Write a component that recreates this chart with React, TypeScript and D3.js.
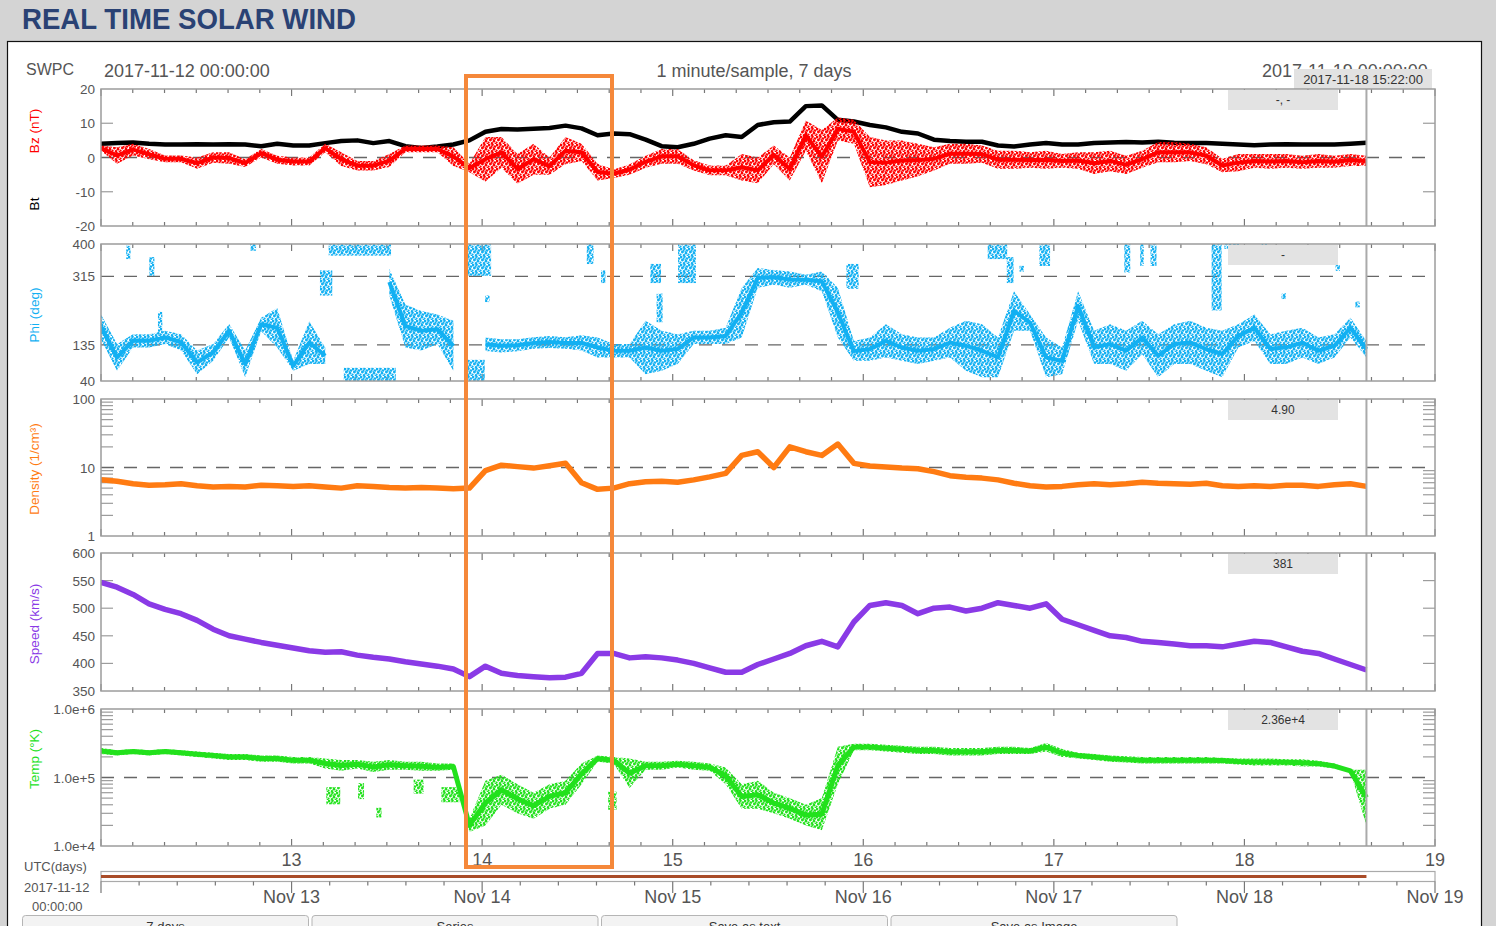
import React from "react";
import * as d3 from "d3";

// ---------- time frame ----------
const startTime = "2017-11-12T00:00:00Z";
const endTime = "2017-11-19T00:00:00Z";
const lastSampleTime = "2017-11-18T15:22:00Z";

// ---------- series (80 samples, ~2 h apart, from start to last sample) ----------
const btValues = [
  4.0, 4.2, 4.4, 4.0, 3.8, 3.8, 3.9, 3.8, 3.9, 3.8,
  3.3, 4.0, 3.5, 3.5, 4.2, 4.8, 5.0, 4.2, 4.8, 3.3,
  2.8, 3.2, 3.8, 5.0, 7.5, 8.3, 8.2, 8.4, 8.6, 9.3,
  8.5, 6.5, 7.0, 6.8, 5.2, 3.3, 3.0, 4.0, 5.5, 6.5,
  6.0, 9.5, 10.3, 10.5, 15.0, 15.2, 11.0, 10.5, 9.5, 8.8,
  7.5, 7.0, 5.2, 4.8, 4.6, 4.6, 3.5, 3.2, 3.8, 4.2,
  3.8, 3.8, 4.2, 4.4, 4.5, 4.4, 4.6, 4.3, 4.2, 4.2,
  4.0, 3.8, 3.6, 3.8, 3.9, 3.8, 3.8, 3.8, 4.0, 4.3,
];
const bzLow = [
  2, -1.8, 0.6, -0.5, -1.4, -1.4, -3.3, -1.5, -1.8, -2.8,
  0, -1.8, -2.3, -2.3, 1.5, -2.5, -3.8, -3.8, -2.8, 1.5,
  1.5, 1.5, -2.5, -4.3, -7, -3, -7.7, -5, -5, -2,
  -1, -6.7, -6, -5, -3, -1.8, -1.8, -3.8, -5.2, -5.2,
  -6.7, -7.5, -2, -6.7, 2, -7.5, 5, 4, -8.7, -8,
  -6.7, -5.5, -3.8, -1.8, -1.8, -1.5, -3.3, -3.3, -3, -3.3,
  -3, -3.3, -4.8, -4, -4.8, -3, -1.4, -1.4, -1, -2,
  -4.3, -4, -3, -3.3, -3, -3.3, -3, -3, -2.5, -2.5,
];
const bzHigh = [
  3.5, 3, 4, 2.5, 0.6, 0.6, 0, 1.5, 1.5, -0.5,
  2.5, 0.5, 0, 0, 4, 1.5, -1, -1, 1, 3.5,
  3.5, 3.5, 3, -1.8, 6, 6, 1, 4, 0, 6,
  4, -1.8, -3.5, -2, 0.5, 2.5, 2.5, -0.8, -2.3, -2.3,
  1, 0, 3.5, 0, 10.8, 8, 11.7, 11, 6, 5,
  5, 4, 3, 4, 4, 3.5, 2, 2, 1.5, 2,
  1, 1.5, 1.5, 2, 0.5, 2, 4.5, 4.5, 4, 3,
  -0.4, 1, 1, 1, 1, 0.5, 1, 0.5, 1, 0.5,
];
const phiLow: (number | null)[] = [
  150, 67, 128, 128, 137, 120, 58, 93, 154, 50,
  171, 128, 67, 85, 85, null, null, null, 265, 128,
  120, 137, 67, null, 119, 115, 118, 125, 127, 125,
  120, 102, 102, 102, 58, 67, 85, 137, 137, 137,
  154, 285, 293, 285, 293, 276, 154, 93, 93, 102,
  93, 85, 93, 102, 67, 50, 50, 172, 172, 50,
  58, 198, 85, 85, 67, 110, 50, 85, 85, 67,
  50, 128, 145, 85, 85, 102, 85, 102, 154, 102,
];
const phiHigh: (number | null)[] = [
  215, 137, 163, 163, 172, 163, 120, 137, 190, 120,
  206, 232, 93, 197, 128, null, null, null, 335, 241,
  224, 215, 198, null, 154, 150, 150, 155, 158, 155,
  160, 154, 137, 137, 198, 172, 163, 172, 172, 180,
  285, 337, 332, 328, 319, 328, 285, 145, 154, 189,
  163, 154, 154, 180, 198, 189, 154, 276, 215, 154,
  128, 276, 172, 189, 172, 198, 163, 189, 198, 180,
  172, 189, 215, 163, 172, 180, 154, 163, 206, 145,
];
// scattered phi groups: [start hour, end hour, low deg, high deg]
const phiClusters = [
  [3.3, 3.6, 363, 393], [6.2, 6.6, 319, 363], [7.3, 7.6, 160, 219], [18.9, 19.4, 385, 400],
  [27.7, 29, 267, 328], [28.8, 36.4, 372, 400], [30.7, 37, 40, 72], [46.3, 49, 319, 400],
  [46.3, 48.2, 40, 93], [48.5, 48.8, 250, 262], [61.3, 61.9, 350, 400], [63.1, 63.4, 300, 328],
  [69.3, 70.4, 300, 345], [70.1, 70.6, 197, 267], [72.8, 74.8, 300, 400], [94, 95.3, 285, 345],
  [111.8, 114, 363, 400], [114.2, 114.8, 300, 363], [115.8, 116.1, 330, 340], [118.3, 119.4, 345, 400],
  [129, 129.5, 328, 400], [131, 131.2, 345, 400], [132.3, 132.8, 345, 400], [140, 141, 228, 400],
  [141.6, 143.2, 390, 400], [146.3, 146.7, 390, 400], [148.8, 149.1, 258, 268], [155.6, 155.9, 332, 342],
  [158.1, 158.4, 236, 246],
];
const densityValues = [
  6.6, 6.3, 5.8, 5.5, 5.6, 5.8, 5.4, 5.2, 5.3, 5.2,
  5.5, 5.4, 5.3, 5.4, 5.2, 5.0, 5.4, 5.3, 5.1, 5.0,
  5.1, 5.0, 4.9, 5.0, 9.0, 10.8, 10.3, 9.8, 10.6, 11.5,
  6.0, 4.8, 5.0, 5.8, 6.2, 6.3, 6.1, 6.6, 7.3, 8.2,
  15, 17, 10, 20, 17, 15, 22, 11.5, 10.5, 10.2,
  9.8, 9.6, 8.7, 7.6, 7.2, 7.0, 6.6, 5.9, 5.4, 5.2,
  5.3, 5.6, 5.8, 5.6, 5.8, 6.1, 5.9, 5.8, 5.7, 5.9,
  5.4, 5.3, 5.4, 5.3, 5.5, 5.5, 5.3, 5.6, 5.8, 5.3,
];
const speedValues = [
  547, 538, 525, 508, 498, 490, 478, 462, 450, 444,
  438, 433, 428, 423, 420, 421, 415, 411, 408, 403,
  399, 395, 390, 376, 395, 382, 378, 376, 374, 375,
  382, 418, 418, 410, 412, 410, 406, 400, 392, 384,
  384, 398, 408, 418, 432, 440, 430, 475, 505, 510,
  505, 490, 500, 502, 495, 500, 510, 505, 500, 508,
  480, 470, 460, 450, 447, 440, 438, 435, 432, 432,
  430, 435, 440, 438, 430, 422, 418, 408, 398, 388,
];
const tempLow = [
  2.2e5, 2.1e5, 2.2e5, 2.1e5, 2.2e5, 2.1e5, 2.0e5, 1.9e5, 1.8e5, 1.8e5,
  1.7e5, 1.7e5, 1.6e5, 1.6e5, 1.35e5, 1.25e5, 1.35e5, 1.2e5, 1.3e5, 1.3e5,
  1.25e5, 1.25e5, 1.3e5, 1.6e4, 2e4, 4e4, 3e4, 2.5e4, 3.5e4, 4e4,
  8e4, 1.7e5, 1.6e5, 7e4, 1.3e5, 1.3e5, 1.4e5, 1.3e5, 1.25e5, 8e4,
  3.5e4, 3.5e4, 3e4, 2.5e4, 2e4, 1.7e4, 8e4, 2.5e5, 2.5e5, 2.4e5,
  2.3e5, 2.2e5, 2.2e5, 2.1e5, 2.1e5, 2.1e5, 2.2e5, 2.2e5, 2.2e5, 2.4e5,
  2.0e5, 1.9e5, 1.8e5, 1.7e5, 1.65e5, 1.6e5, 1.6e5, 1.6e5, 1.6e5, 1.6e5,
  1.6e5, 1.55e5, 1.5e5, 1.5e5, 1.5e5, 1.45e5, 1.45e5, 1.35e5, 1.2e5, 2e4,
];
const tempHigh = [
  2.7e5, 2.5e5, 2.6e5, 2.5e5, 2.6e5, 2.5e5, 2.4e5, 2.3e5, 2.2e5, 2.2e5,
  2.1e5, 2.1e5, 2.0e5, 2.0e5, 1.9e5, 1.8e5, 1.8e5, 1.7e5, 1.8e5, 1.7e5,
  1.7e5, 1.6e5, 1.6e5, 2.5e4, 9e4, 1.1e5, 8e4, 6e4, 8e4, 9e4,
  1.6e5, 2.1e5, 2.0e5, 1.9e5, 1.7e5, 1.7e5, 1.75e5, 1.7e5, 1.6e5, 1.4e5,
  8e4, 9e4, 6e4, 5e4, 4e4, 5e4, 2.8e5, 3.1e5, 3.1e5, 3.0e5,
  2.9e5, 2.8e5, 2.8e5, 2.7e5, 2.7e5, 2.7e5, 2.8e5, 2.8e5, 2.7e5, 3.2e5,
  2.6e5, 2.3e5, 2.2e5, 2.1e5, 2.05e5, 2.0e5, 2.0e5, 2.0e5, 2.0e5, 2.0e5,
  1.95e5, 1.9e5, 1.9e5, 1.9e5, 1.85e5, 1.85e5, 1.75e5, 1.6e5, 1.3e5, 1.3e5,
];
// scattered temperature groups: [start hour, end hour, low K, high K]
const tempClusters = [
  [28.5, 30, 4.2e4, 7e4], [32.5, 33, 5e4, 8e4], [34.8, 35.2, 2.7e4, 3.5e4],
  [39.5, 40.5, 6e4, 9e4], [43, 45, 4.5e4, 7e4], [64, 64.8, 3.5e4, 6e4],
];

// ---------- labels ----------
const bzTickLabels = [20, 10, 0, -10, -20];
const phiTickLabels = [400, 315, 135, 40];
const densityTickLabels = [100, 10, 1];
const speedTickLabels = [600, 550, 500, 450, 400, 350];
const tempTickLabels = [1e6, 1e5, 1e4];
const dayLabels = ["13", "14", "15", "16", "17", "18", "19"];
const dateLabels = ["Nov 13", "Nov 14", "Nov 15", "Nov 16", "Nov 17", "Nov 18", "Nov 19"];
const readouts = ["-, -", "-", "4.90", "381", "2.36e+4"];
const buttonLabels = ["7 days", "Series", "Save as text", "Save as Image"];

const FONT = "'Liberation Sans', Arial, Helvetica, sans-serif";
const COL = {
  bt: "#000000", bz: "#ff0000", phi: "#12b0f2", dens: "#ff7b12", speed: "#8a3ae6", temp: "#22e11c",
  frame: "#9c9c9c", text: "#555555",
};
// dot texture used for scattered regions: [cx, cy, r] inside an 8x8 tile
const dotTile = [
  [1, 1, 1.45], [4.5, 0.8, 1.3], [7, 2.6, 1.25], [2.4, 4, 1.45], [6, 5.2, 1.4],
  [0.4, 6.6, 1.2], [4, 7.3, 1.3], [3.6, 2.5, 0.9], [7.6, 7.6, 1.0], [5.2, 3.2, 0.8],
];

export default function App() {
  const W = 1496, H = 926;
  const L = 101, R = 1435;
  const t0 = new Date(startTime), t1 = new Date(endTime), tEnd = new Date(lastSampleTime);
  const x = d3.scaleUtc().domain([t0, t1]).range([L, R]);
  const hourDate = (h: number) => new Date(+t0 + h * 36e5);
  const endHours = (+tEnd - +t0) / 36e5;
  const n = btValues.length;
  const binX = btValues.map((_, i) => x(hourDate((i * endHours) / (n - 1))));
  const cursorX = x(tEnd);

  const panels = [
    { key: "bz", top: 89, bottom: 226, y: d3.scaleLinear().domain([-20, 20]).range([226, 89]),
      labels: bzTickLabels, fmt: (d: number) => String(d), ticks: [10, -10], dashed: [0], minor: [] as number[] },
    { key: "phi", top: 244, bottom: 381, y: d3.scaleLinear().domain([40, 400]).range([381, 244]),
      labels: phiTickLabels, fmt: (d: number) => String(d), ticks: [] as number[], dashed: [315, 135], minor: [] as number[] },
    { key: "dens", top: 399, bottom: 536, y: d3.scaleLog().domain([1, 100]).range([536, 399]),
      labels: densityTickLabels, fmt: (d: number) => String(d), ticks: [] as number[], dashed: [10], minor: [] as number[] },
    { key: "speed", top: 553, bottom: 691, y: d3.scaleLinear().domain([350, 600]).range([691, 553]),
      labels: speedTickLabels, fmt: (d: number) => String(d), ticks: [550, 500, 450, 400], dashed: [] as number[], minor: [] as number[] },
    { key: "temp", top: 709, bottom: 846, y: d3.scaleLog().domain([1e4, 1e6]).range([846, 709]),
      labels: tempTickLabels, fmt: (d: number) => d3.format(".1e")(d), ticks: [] as number[], dashed: [1e5], minor: [] as number[] },
  ];
  panels[2].minor = (panels[2].y as any).ticks().filter((v: number) => ![1, 10, 100].includes(v));
  panels[4].minor = (panels[4].y as any).ticks().filter((v: number) => ![1e4, 1e5, 1e6].includes(v));

  const [pBz, pPhi, pDens, pSpeed, pTemp] = panels;

  const line = (vals: number[], y: any) =>
    d3.line<number>().x((_, i) => binX[i]).y((v) => y(v))(vals) || "";
  const band = (lo: (number | null)[], hi: (number | null)[], y: any) =>
    d3.area<number | null>()
      .defined((_, i) => lo[i] != null && hi[i] != null)
      .x((_, i) => binX[i])
      .y0((_, i) => y(lo[i] as number))
      .y1((_, i) => y(hi[i] as number))(lo) || "";
  const core = (lo: (number | null)[], hi: (number | null)[], y: any) =>
    d3.line<number | null>()
      .defined((_, i) => lo[i] != null && hi[i] != null)
      .x((_, i) => binX[i])
      .y((_, i) => (y(lo[i] as number) + y(hi[i] as number)) / 2)(lo) || "";

  const clusterRects = (list: number[][], y: any, fill: string, key: string) =>
    list.map((c, i) => {
      const x0 = x(hourDate(c[0])), x1 = x(hourDate(c[1]));
      const yTop = y(c[3]), yBot = y(c[2]);
      return (
        <rect key={key + i} x={x0 - 1} width={Math.max(3, x1 - x0 + 2)} y={yTop - 1}
          height={Math.max(3, yBot - yTop + 2)} fill={fill} />
      );
    });

  const timeTicks = x.ticks(d3.utcHour.every(4) as any);
  const dayTicks = x.ticks(d3.utcDay.every(1) as any).filter((d) => +d > +t0);
  const navTicks = d3.range(0, 7 * 5 + 1).map((k) => hourDate(k * 4.8));

  const titles = [
    { text: "Bz (nT)", color: COL.bz, cy: 131 },
    { text: "Bt", color: "#000", cy: 204 },
    { text: "Phi (deg)", color: COL.phi, cy: 315 },
    { text: "Density (1/cm\u00B3)", color: COL.dens, cy: 469 },
    { text: "Speed (km/s)", color: COL.speed, cy: 624 },
    { text: "Temp (\u00B0K)", color: COL.temp, cy: 759 },
  ];

  const dotPattern = (id: string, color: string) => (
    <pattern id={id} key={id} width={8} height={8} patternUnits="userSpaceOnUse">
      {dotTile.map((d, i) => <circle key={i} cx={d[0]} cy={d[1]} r={d[2]} fill={color} />)}
    </pattern>
  );

  return (
    <div style={{ position: "absolute", left: 0, top: 0, width: W, height: H, overflow: "hidden" }}>
      <svg width={W} height={H} style={{ display: "block", fontFamily: FONT }}>
        <defs>
          {panels.map((p) => (
            <clipPath id={"clip-" + p.key} key={p.key}>
              <rect x={L} y={p.top} width={R - L} height={p.bottom - p.top} />
            </clipPath>
          ))}
          {dotPattern("dots-bz", COL.bz)}
          {dotPattern("dots-phi", COL.phi)}
          {dotPattern("dots-temp", COL.temp)}
        </defs>
        {/* page */}
        <rect x={0} y={0} width={W} height={H} fill="#d4d4d4" />
        <text x={22} y={29} fontSize={30} fontWeight="bold" fill="#2a4274" textLength={334}
          lengthAdjust="spacingAndGlyphs">REAL TIME SOLAR WIND</text>
        <rect x={7.5} y={41.5} width={1474} height={H} fill="#ffffff" stroke="#111" strokeWidth={1.2} />

        {/* header */}
        <text x={26} y={75} fontSize={16} fill={COL.text}>SWPC</text>
        <text x={104} y={77} fontSize={18} fill={COL.text}>2017-11-12 00:00:00</text>
        <text x={754} y={77} fontSize={18} fill={COL.text} textAnchor="middle">1 minute/sample, 7 days</text>
        <text x={1262} y={77} fontSize={18} fill={COL.text}>2017-11-19 00:00:00</text>
        <rect x={1294} y={69} width={138} height={20} fill="#e2e2e2" />
        <text x={1363} y={84} fontSize={13} fill="#333" textAnchor="middle">2017-11-18 15:22:00</text>

        {/* rotated axis titles */}
        {titles.map((t) => (
          <text key={t.text} transform={`translate(39,${t.cy}) rotate(-90)`} textAnchor="middle"
            fontSize={13.5} fill={t.color}>{t.text}</text>
        ))}

        {/* panel guides */}
        {panels.map((p) => (
          <g key={"g-" + p.key}>
            {p.labels.map((v) => (
              <text key={v} x={95} y={p.y(v) + 5} fontSize={13.5} fill={COL.text} textAnchor="end">{p.fmt(v)}</text>
            ))}
            {p.dashed.map((v) => (
              <line key={"d" + v} x1={L} x2={R} y1={p.y(v)} y2={p.y(v)} stroke="#666" strokeWidth={1.4}
                strokeDasharray="13,10" />
            ))}
            {[...p.ticks, ...p.minor].map((v) => (
              <g key={"t" + v}>
                <line x1={L} x2={L + 12} y1={p.y(v)} y2={p.y(v)} stroke={COL.frame} strokeWidth={1.2} />
                <line x1={R - 12} x2={R} y1={p.y(v)} y2={p.y(v)} stroke={COL.frame} strokeWidth={1.2} />
              </g>
            ))}
            {timeTicks.map((d) => {
              const big = d.getUTCHours() === 0;
              const len = big ? 7 : 4;
              return (
                <g key={"x" + +d}>
                  <line x1={x(d)} x2={x(d)} y1={p.top} y2={p.top + len} stroke="#777" strokeWidth={1.2} />
                  <line x1={x(d)} x2={x(d)} y1={p.bottom} y2={p.bottom - len} stroke="#777" strokeWidth={1.2} />
                </g>
              );
            })}
          </g>
        ))}

        {/* data */}
        <g clipPath="url(#clip-bz)">
          <path d={line(btValues, pBz.y)} fill="none" stroke={COL.bt} strokeWidth={4.5} strokeLinejoin="round" />
          <path d={band(bzLow, bzHigh, pBz.y)} fill="url(#dots-bz)" />
          <path d={core(bzLow, bzHigh, pBz.y)} fill="none" stroke={COL.bz} strokeWidth={4} strokeLinejoin="round" />
        </g>
        <g clipPath="url(#clip-phi)">
          <path d={band(phiLow, phiHigh, pPhi.y)} fill="url(#dots-phi)" />
          <path d={core(phiLow, phiHigh, pPhi.y)} fill="none" stroke={COL.phi} strokeWidth={4} strokeLinejoin="round" />
          {clusterRects(phiClusters, pPhi.y, "url(#dots-phi)", "pc")}
        </g>
        <g clipPath="url(#clip-dens)">
          <path d={line(densityValues, pDens.y)} fill="none" stroke={COL.dens} strokeWidth={5.5} strokeLinejoin="round" />
        </g>
        <g clipPath="url(#clip-speed)">
          <path d={line(speedValues, pSpeed.y)} fill="none" stroke={COL.speed} strokeWidth={5.5} strokeLinejoin="round" />
        </g>
        <g clipPath="url(#clip-temp)">
          <path d={band(tempLow, tempHigh, pTemp.y)} fill="url(#dots-temp)" />
          <path d={core(tempLow, tempHigh, pTemp.y)} fill="none" stroke={COL.temp} strokeWidth={5} strokeLinejoin="round" />
          {clusterRects(tempClusters, pTemp.y, "url(#dots-temp)", "tc")}
        </g>

        {/* frames, cursor, readouts */}
        {panels.map((p, i) => (
          <g key={"f-" + p.key}>
            <line x1={cursorX} x2={cursorX} y1={p.top} y2={p.bottom} stroke="#aaa" strokeWidth={2} />
            <rect x={L} y={p.top} width={R - L} height={p.bottom - p.top} fill="none" stroke={COL.frame} strokeWidth={1.5} />
            <rect x={1228} y={p.top + 1} width={110} height={20} fill="#e3e3e3" />
            <text x={1283} y={p.top + 15} fontSize={12} fill="#333" textAnchor="middle">{readouts[i]}</text>
          </g>
        ))}

        {/* bottom day axis */}
        {dayTicks.map((d, i) => (
          <text key={"dl" + i} x={x(d)} y={866} fontSize={18} fill={COL.text} textAnchor="middle">{dayLabels[i]}</text>
        ))}
        <text x={24} y={871} fontSize={13} fill={COL.text}>UTC(days)</text>
        <text x={24} y={892} fontSize={13} fill={COL.text}>2017-11-12</text>
        <text x={32} y={911} fontSize={13} fill={COL.text}>00:00:00</text>

        {/* navigator */}
        <rect x={L} y={871.5} width={R - L} height={10} fill="#fff" stroke="#aaa" strokeWidth={1.2} />
        <line x1={x(t0)} x2={cursorX} y1={876.5} y2={876.5} stroke="#a94c28" strokeWidth={3} />
        {navTicks.map((d, i) => {
          const big = i % 5 === 0;
          return <line key={"nt" + i} x1={x(d)} x2={x(d)} y1={881.5} y2={big ? 893 : 885.5} stroke="#777" strokeWidth={1.2} />;
        })}
        {dayTicks.map((d, i) => (
          <text key={"nl" + i} x={x(d)} y={903} fontSize={18} fill={COL.text} textAnchor="middle">{dateLabels[i]}</text>
        ))}

        {/* buttons */}
        {buttonLabels.map((b, i) => (
          <g key={b}>
            <rect x={22.5 + i * 289.5} y={915.5} width={286} height={24} rx={3} fill="#f3f3f3" stroke="#b5b5b5" />
            <text x={22.5 + i * 289.5 + 143} y={931} fontSize={13} fill="#333" textAnchor="middle">{b}</text>
          </g>
        ))}

        {/* highlight box */}
        <rect x={466} y={76} width={146} height={791} fill="none" stroke="#f5883a" strokeWidth={4} />
      </svg>
    </div>
  );
}
